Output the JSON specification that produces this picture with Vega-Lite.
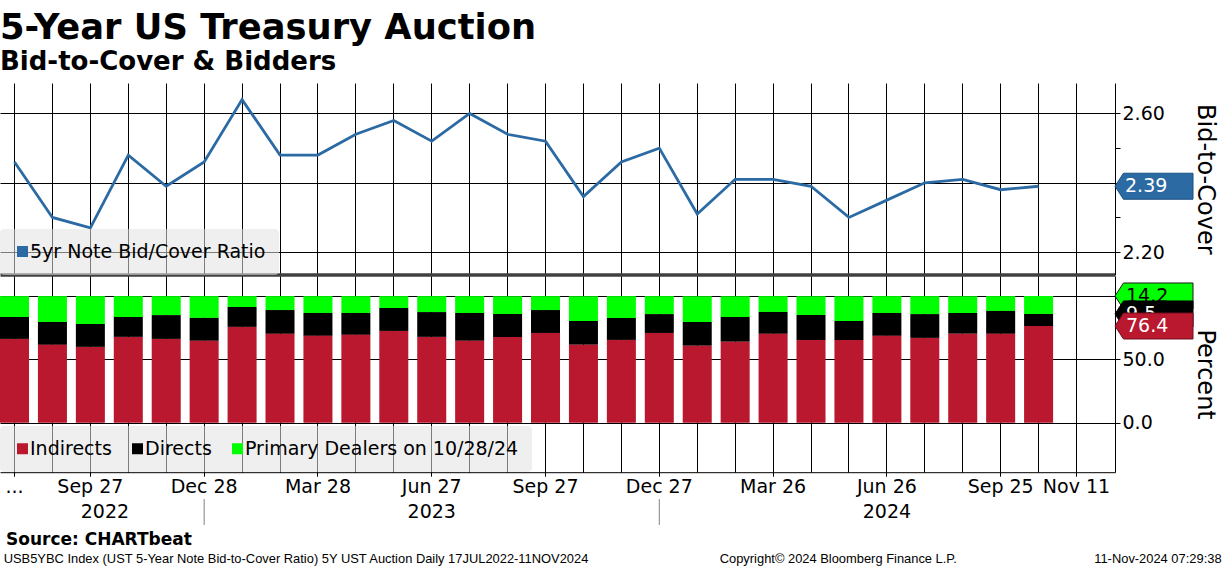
{
  "$schema": "https://vega.github.io/schema/vega-lite/v6.json",
  "background": "white",
  "padding": {"left": 0, "top": 10, "right": 0, "bottom": 0},
  "title": {
    "text": "5-Year US Treasury Auction",
    "subtitle": "Bid-to-Cover & Bidders",
    "anchor": "start",
    "font": "DejaVu Sans",
    "fontSize": 35.3,
    "fontWeight": "bold",
    "color": "black",
    "subtitleFont": "DejaVu Sans",
    "subtitleFontSize": 26,
    "subtitleFontWeight": "bold",
    "subtitleColor": "black",
    "subtitlePadding": 3,
    "offset": 8
  },
  "datasets": {
    "auctions": [
      {"d": "2022-07-27", "bc": 2.46, "indirect": 66.2, "direct": 17.3, "dealer": 16.5},
      {"d": "2022-08-25", "bc": 2.30, "indirect": 61.5, "direct": 18.1, "dealer": 20.4},
      {"d": "2022-09-27", "bc": 2.27, "indirect": 59.9, "direct": 18.1, "dealer": 22.0},
      {"d": "2022-10-27", "bc": 2.48, "indirect": 67.8, "direct": 15.7, "dealer": 16.5},
      {"d": "2022-11-28", "bc": 2.39, "indirect": 66.2, "direct": 18.8, "dealer": 15.0},
      {"d": "2022-12-28", "bc": 2.46, "indirect": 64.7, "direct": 18.1, "dealer": 17.2},
      {"d": "2023-01-26", "bc": 2.64, "indirect": 75.7, "direct": 15.7, "dealer": 8.6},
      {"d": "2023-02-23", "bc": 2.48, "indirect": 70.2, "direct": 18.8, "dealer": 11.0},
      {"d": "2023-03-28", "bc": 2.48, "indirect": 68.6, "direct": 18.1, "dealer": 13.3},
      {"d": "2023-04-26", "bc": 2.54, "indirect": 69.4, "direct": 17.3, "dealer": 13.3},
      {"d": "2023-05-24", "bc": 2.58, "indirect": 72.5, "direct": 18.1, "dealer": 9.4},
      {"d": "2023-06-27", "bc": 2.52, "indirect": 67.8, "direct": 19.6, "dealer": 12.6},
      {"d": "2023-07-26", "bc": 2.60, "indirect": 64.7, "direct": 22.0, "dealer": 13.3},
      {"d": "2023-08-24", "bc": 2.54, "indirect": 67.8, "direct": 18.1, "dealer": 14.1},
      {"d": "2023-09-27", "bc": 2.52, "indirect": 70.9, "direct": 18.1, "dealer": 11.0},
      {"d": "2023-10-26", "bc": 2.36, "indirect": 61.5, "direct": 18.8, "dealer": 19.7},
      {"d": "2023-11-28", "bc": 2.46, "indirect": 65.4, "direct": 17.3, "dealer": 17.3},
      {"d": "2023-12-27", "bc": 2.50, "indirect": 70.9, "direct": 14.9, "dealer": 14.2},
      {"d": "2024-01-24", "bc": 2.31, "indirect": 60.7, "direct": 18.8, "dealer": 20.5},
      {"d": "2024-02-27", "bc": 2.41, "indirect": 63.9, "direct": 19.6, "dealer": 16.5},
      {"d": "2024-03-26", "bc": 2.41, "indirect": 70.2, "direct": 17.3, "dealer": 12.5},
      {"d": "2024-04-24", "bc": 2.39, "indirect": 65.4, "direct": 19.6, "dealer": 15.0},
      {"d": "2024-05-29", "bc": 2.30, "indirect": 65.4, "direct": 14.9, "dealer": 19.7},
      {"d": "2024-06-26", "bc": 2.35, "indirect": 68.6, "direct": 18.1, "dealer": 13.3},
      {"d": "2024-07-30", "bc": 2.40, "indirect": 67.0, "direct": 18.8, "dealer": 14.2},
      {"d": "2024-08-27", "bc": 2.41, "indirect": 70.2, "direct": 16.5, "dealer": 13.3},
      {"d": "2024-09-25", "bc": 2.38, "indirect": 70.2, "direct": 18.1, "dealer": 11.7},
      {"d": "2024-10-28", "bc": 2.39, "indirect": 76.4, "direct": 9.5, "dealer": 14.2}
    ]
  },
  "spacing": 1,
  "resolve": {"scale": {"color": "independent"}, "legend": {"color": "independent"}},
  "vconcat": [
    {
      "width": 1115,
      "height": 191.6,
      "data": {"name": "auctions"},
      "layer": [
        {
          "mark": {"type": "line", "strokeWidth": 2.8},
          "encoding": {
            "x": {
              "field": "d",
              "type": "ordinal",
              "scale": {
                "type": "band",
                "domain": ["2022-07-27","2022-08-25","2022-09-27","2022-10-27","2022-11-28","2022-12-28","2023-01-26","2023-02-23","2023-03-28","2023-04-26","2023-05-24","2023-06-27","2023-07-26","2023-08-24","2023-09-27","2023-10-26","2023-11-28","2023-12-27","2024-01-24","2024-02-27","2024-03-26","2024-04-24","2024-05-29","2024-06-26","2024-07-30","2024-08-27","2024-09-25","2024-10-28","2024-11-11"],
                "paddingInner": 0.235,
                "paddingOuter": 0.316,
                "align": 0
              },
              "axis": {
                "orient": "bottom",
                "title": null,
                "labels": false,
                "ticks": false,
                "domain": true,
                "domainColor": "#404040",
                "domainWidth": 3.5,
                "grid": true,
                "bandPosition": 0.5
              }
            },
            "y": {
              "field": "bc",
              "type": "quantitative",
              "scale": {"domain": [2.135, 2.688], "nice": false, "zero": false},
              "axis": {
                "orient": "right",
                "values": [2.2, 2.3, 2.4, 2.5, 2.6],
                "format": ".2f",
                "labelExpr": "datum.value == 2.2 || datum.value == 2.6 ? datum.label : ''",
                "labelOverlap": false,
                "grid": true,
                "gridOpacity": {"condition": {"test": "round(datum.value * 10) % 2 == 1", "value": 0}, "value": 1},
                "tickSize": 5,
                "labelPadding": 2,
                "title": "Bid-to-Cover",
                "titlePadding": 28
              }
            },
            "color": {
              "datum": "5yr Note Bid/Cover Ratio",
              "scale": {"range": ["#2c6aa4"]},
              "legend": {
                "title": null,
                "orient": "bottom-left",
                "offset": 0,
                "padding": 13,
                "fillColor": "rgba(225,225,225,0.55)",
                "cornerRadius": 4,
                "symbolType": "square",
                "symbolSize": 121,
                "labelOffset": -2,
                "labelLimit": 0,
                "encode": {"symbols": {"update": {"fill": {"value": "#2c6aa4"}, "strokeWidth": {"value": 0}}}}
              }
            }
          }
        },
        {
          "transform": [{"filter": "datum.d == '2024-10-28'"}],
          "mark": {"type": "point", "shape": "M0,0L0.65,-1L6,-1L6,1L0.65,1Z", "size": 676, "filled": true, "fill": "#2c6aa4", "opacity": 1, "stroke": "#1d4f80", "strokeWidth": 1},
          "encoding": {
            "x": {"value": "width"},
            "y": {"field": "bc", "type": "quantitative"}
          }
        },
        {
          "transform": [{"filter": "datum.d == '2024-10-28'"}],
          "mark": {"type": "text", "align": "left", "baseline": "middle", "dx": 10, "fontSize": 19, "font": "DejaVu Sans", "color": "white"},
          "encoding": {
            "x": {"value": "width"},
            "y": {"field": "bc", "type": "quantitative"},
            "text": {"field": "bc", "type": "quantitative", "format": ".2f"}
          }
        }
      ]
    },
    {
      "width": 1115,
      "height": 196.2,
      "data": {"name": "auctions"},
      "transform": [
        {"fold": ["dealer", "direct", "indirect"], "as": ["bidder", "pct"]},
        {"stack": "pct", "groupby": ["d"], "sort": [{"field": "bidder", "order": "descending"}], "as": ["lo", "hi"]}
      ],
      "layer": [
        {
          "mark": {"type": "bar"},
          "encoding": {
            "x": {
              "field": "d",
              "type": "ordinal",
              "scale": {
                "type": "band",
                "domain": ["2022-07-27","2022-08-25","2022-09-27","2022-10-27","2022-11-28","2022-12-28","2023-01-26","2023-02-23","2023-03-28","2023-04-26","2023-05-24","2023-06-27","2023-07-26","2023-08-24","2023-09-27","2023-10-26","2023-11-28","2023-12-27","2024-01-24","2024-02-27","2024-03-26","2024-04-24","2024-05-29","2024-06-26","2024-07-30","2024-08-27","2024-09-25","2024-10-28","2024-11-11"],
                "paddingInner": 0.235,
                "paddingOuter": 0.316,
                "align": 0
              },
              "axis": {
                "orient": "bottom",
                "title": null,
                "grid": true,
                "bandPosition": 0.5,
                "labelAngle": 0,
                "labelOverlap": false,
                "labelPadding": 1,
                "tickSize": 4,
                "labelExpr": "datum.value == '2022-07-27' ? '...' : (indexof(['2022-09-27','2022-12-28','2023-03-28','2023-06-27','2023-09-27','2023-12-27','2024-03-26','2024-06-26','2024-09-25','2024-11-11'], datum.value) >= 0 ? utcFormat(toDate(datum.value), '%b %d') : '')",
                "tickOpacity": {"condition": {"test": "datum.value != '2022-07-27' && indexof(['2022-09-27','2022-12-28','2023-03-28','2023-06-27','2023-09-27','2023-12-27','2024-03-26','2024-06-26','2024-09-25','2024-11-11'], datum.value) < 0", "value": 0}, "value": 1}
              }
            },
            "y": {
              "field": "hi",
              "type": "quantitative",
              "scale": {"domain": [-39.1, 115.9], "nice": false, "zero": false},
              "axis": {
                "orient": "right",
                "values": [0, 50, 100],
                "format": ".1f",
                "labelExpr": "datum.value < 75 ? datum.label : ''",
                "labelOverlap": false,
                "grid": true,
                "zindex": 0,
                "tickSize": 5,
                "labelPadding": 2,
                "title": "Percent",
                "titlePadding": 28
              }
            },
            "y2": {"field": "lo"},
            "color": {
              "field": "bidder",
              "type": "nominal",
              "scale": {"domain": ["indirect", "direct", "dealer"], "range": ["#b9182f", "#000000", "#00ff00"]},
              "legend": {
                "title": null,
                "orient": "bottom-left",
                "direction": "horizontal",
                "offset": 0,
                "padding": 13,
                "fillColor": "rgba(225,225,225,0.55)",
                "cornerRadius": 4,
                "symbolType": "square",
                "symbolSize": 121,
                "symbolStrokeWidth": 0,
                "labelOffset": -2,
                "labelLimit": 0,
                "columnPadding": 16,
                "labelExpr": "datum.label == 'indirect' ? 'Indirects' : (datum.label == 'direct' ? 'Directs' : 'Primary Dealers on 10/28/24')"
              }
            }
          }
        },
        {
          "transform": [{"filter": "datum.d == '2024-10-28' && datum.bidder == 'dealer'"}],
          "mark": {"type": "point", "shape": "M0,0L0.65,-1L6,-1L6,1L0.65,1Z", "size": 676, "filled": true, "fill": "#00ff00", "opacity": 1, "stroke": "#1a1a1a", "strokeWidth": 1},
          "encoding": {"x": {"value": "width"}, "y": {"field": "hi", "type": "quantitative"}}
        },
        {
          "transform": [{"filter": "datum.d == '2024-10-28' && datum.bidder == 'dealer'"}],
          "mark": {"type": "text", "align": "left", "baseline": "middle", "dx": 11, "fontSize": 19, "font": "DejaVu Sans", "color": "black"},
          "encoding": {"x": {"value": "width"}, "y": {"field": "hi", "type": "quantitative"}, "text": {"field": "pct", "type": "quantitative", "format": ".1f"}}
        },
        {
          "transform": [{"filter": "datum.d == '2024-10-28' && datum.bidder == 'direct'"}],
          "mark": {"type": "point", "shape": "M0,0L0.65,-1L6,-1L6,1L0.65,1Z", "size": 676, "filled": true, "fill": "#000000", "opacity": 1, "stroke": "#000000", "strokeWidth": 1},
          "encoding": {"x": {"value": "width"}, "y": {"field": "hi", "type": "quantitative"}}
        },
        {
          "transform": [{"filter": "datum.d == '2024-10-28' && datum.bidder == 'direct'"}],
          "mark": {"type": "text", "align": "left", "baseline": "middle", "dx": 11, "fontSize": 19, "font": "DejaVu Sans", "color": "white"},
          "encoding": {"x": {"value": "width"}, "y": {"field": "hi", "type": "quantitative"}, "text": {"field": "pct", "type": "quantitative", "format": ".1f"}}
        },
        {
          "transform": [{"filter": "datum.d == '2024-10-28' && datum.bidder == 'indirect'"}],
          "mark": {"type": "point", "shape": "M0,0L0.65,-1L6,-1L6,1L0.65,1Z", "size": 676, "filled": true, "fill": "#b9182f", "opacity": 1, "stroke": "#6e0e1c", "strokeWidth": 1},
          "encoding": {"x": {"value": "width"}, "y": {"field": "hi", "type": "quantitative"}}
        },
        {
          "transform": [{"filter": "datum.d == '2024-10-28' && datum.bidder == 'indirect'"}],
          "mark": {"type": "text", "align": "left", "baseline": "middle", "dx": 11, "fontSize": 19, "font": "DejaVu Sans", "color": "white"},
          "encoding": {"x": {"value": "width"}, "y": {"field": "hi", "type": "quantitative"}, "text": {"field": "pct", "type": "quantitative", "format": ".1f"}}
        }
      ]
    },
    {
      "width": 1115,
      "height": 26,
      "title": {"text": "Source: CHARTbeat", "orient": "bottom", "anchor": "start", "font": "DejaVu Sans", "fontSize": 17, "fontWeight": "bold", "color": "black", "offset": 6, "dx": 6},
      "layer": [
        {
          "data": {"values": [{"d": "2022-12-28"}, {"d": "2023-12-27"}]},
          "mark": {"type": "rule", "color": "#808080", "strokeWidth": 1},
          "encoding": {
            "x": {
              "field": "d",
              "type": "ordinal",
              "scale": {
                "type": "band",
                "domain": ["2022-07-27","2022-08-25","2022-09-27","2022-10-27","2022-11-28","2022-12-28","2023-01-26","2023-02-23","2023-03-28","2023-04-26","2023-05-24","2023-06-27","2023-07-26","2023-08-24","2023-09-27","2023-10-26","2023-11-28","2023-12-27","2024-01-24","2024-02-27","2024-03-26","2024-04-24","2024-05-29","2024-06-26","2024-07-30","2024-08-27","2024-09-25","2024-10-28","2024-11-11"],
                "paddingInner": 0.235,
                "paddingOuter": 0.316,
                "align": 0
              },
              "axis": null
            }
          }
        },
        {
          "data": {"values": [{"year": "2022", "d": "2022-09-27"}]},
          "mark": {"type": "text", "fontSize": 19, "font": "DejaVu Sans", "color": "black", "baseline": "middle"},
          "encoding": {
            "x": {"field": "d", "type": "ordinal", "bandPosition": 1},
            "text": {"field": "year"}
          }
        },
        {
          "data": {"values": [{"year": "2023", "d": "2023-06-27"}, {"year": "2024", "d": "2024-06-26"}]},
          "mark": {"type": "text", "fontSize": 19, "font": "DejaVu Sans", "color": "black", "baseline": "middle"},
          "encoding": {
            "x": {"field": "d", "type": "ordinal"},
            "text": {"field": "year"}
          }
        }
      ]
    },
    {
      "width": 1224,
      "height": 20,
      "layer": [
        {
          "data": {"values": [{"note": "USB5YBC Index (UST 5-Year Note Bid-to-Cover Ratio) 5Y UST Auction  Daily 17JUL2022-11NOV2024"}]},
          "mark": {"type": "text", "align": "left", "baseline": "middle", "font": "Liberation Sans", "fontSize": 12.9, "color": "black"},
          "encoding": {
            "x": {"datum": 0.003, "type": "quantitative", "scale": {"domain": [0, 1], "nice": false, "zero": false}, "axis": null},
            "text": {"field": "note"}
          }
        },
        {
          "data": {"values": [{"note": "Copyright© 2024 Bloomberg Finance L.P."}]},
          "mark": {"type": "text", "align": "left", "baseline": "middle", "font": "Liberation Sans", "fontSize": 12.9, "color": "black"},
          "encoding": {
            "x": {"datum": 0.588, "type": "quantitative"},
            "text": {"field": "note"}
          }
        },
        {
          "data": {"values": [{"note": "11-Nov-2024 07:29:38"}]},
          "mark": {"type": "text", "align": "right", "baseline": "middle", "font": "Liberation Sans", "fontSize": 12.9, "color": "black"},
          "encoding": {
            "x": {"datum": 0.998, "type": "quantitative"},
            "text": {"field": "note"}
          }
        }
      ]
    }
  ],
  "config": {
    "view": {"stroke": null},
    "axis": {
      "labelFont": "DejaVu Sans",
      "labelFontSize": 19,
      "labelColor": "black",
      "titleFont": "DejaVu Sans",
      "titleFontSize": 24,
      "titleFontWeight": "normal",
      "titleColor": "black",
      "tickColor": "black",
      "domainColor": "black",
      "gridColor": "black",
      "gridWidth": 1
    },
    "legend": {
      "labelFont": "DejaVu Sans",
      "labelFontSize": 19,
      "labelColor": "black"
    }
  }
}
